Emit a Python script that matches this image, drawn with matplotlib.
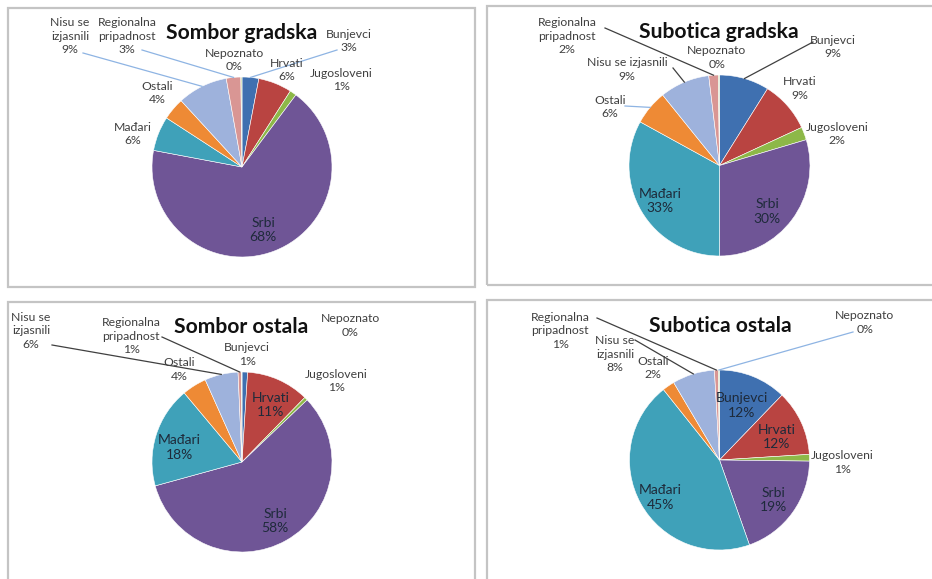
import matplotlib.pyplot as plt
from matplotlib.patches import Rectangle
import numpy as np

plt.rcParams['font.family'] = ['Lato', 'DejaVu Sans']

# --- data -------------------------------------------------------------
categories = ['Bunjevci', 'Hrvati', 'Jugosloveni', 'Srbi', 'Mađari', 'Ostali',
              'Nisu se izjasnili', 'Regionalna pripadnost', 'Nepoznato']

titles = ['Sombor gradska', 'Subotica gradska', 'Sombor ostala', 'Subotica ostala']

sombor_gradska = [3.0, 6.0, 1.2, 67.6, 6.2, 4.0, 9.0, 2.6, 0.2]
subotica_gradska = [8.9, 9.2, 2.3, 29.6, 33.0, 6.2, 8.9, 1.7, 0.2]
sombor_ostala = [1.0, 11.3, 0.6, 57.9, 18.2, 4.4, 6.0, 0.6, 0.1]
subotica_ostala = [12.2, 11.8, 1.2, 19.4, 44.7, 2.2, 7.6, 0.7, 0.2]

colors = ['#3F70B0', '#B94441', '#8DB848', '#6F5596', '#3FA1B9', '#EE8A35',
          '#9EB2DC', '#D99694', '#B8D08E']

# --- layout (pixels, origin top-left) ---------------------------------
W, H = 932, 579
LB = '#8EB4E3'   # light blue leader
DG = '#404040'   # dark leader

panels = [
    dict(vals=sombor_gradska, center=(242, 167), r=90, title_xy=(242, 33),
         box=(8, 8, 475, 287),
         labels=[(0, 'Bunjevci', 349, 41, False, (337, 50), LB),
                 (1, 'Hrvati', 287, 70, False, None, None),
                 (2, 'Jugosloveni', 341, 80, False, None, None),
                 (3, 'Srbi', 263, 230, True, None, None),
                 (4, 'Mađari', 133, 134, False, None, None),
                 (5, 'Ostali', 157, 93, False, None, None),
                 (6, 'Nisu se\nizjasnili', 70, 36, False, (83, 53), LB),
                 (7, 'Regionalna\npripadnost', 127, 36, False, (142, 50), LB),
                 (8, 'Nepoznato', 234, 60, False, None, None)]),
    dict(vals=subotica_gradska, center=(719.5, 165.5), r=90.5, title_xy=(719, 32),
         box=(487, 6, 950, 285),
         labels=[(0, 'Bunjevci', 833, 47, False, (813, 42), DG),
                 (1, 'Hrvati', 800, 88.5, False, None, None),
                 (2, 'Jugosloveni', 837, 134, False, None, None),
                 (3, 'Srbi', 767, 211.5, True, None, None),
                 (4, 'Mađari', 660, 201, True, None, None),
                 (5, 'Ostali', 610, 107, False, (625, 106), LB),
                 (6, 'Nisu se izjasnili', 627, 69.5, False, (673, 68), DG),
                 (7, 'Regionalna\npripadnost', 567, 36, False, (605, 28), DG),
                 (8, 'Nepoznato', 717, 57.5, False, None, None)]),
    dict(vals=sombor_ostala, center=(242, 462), r=90, title_xy=(241, 327),
         box=(8, 302, 475, 600),
         labels=[(0, 'Bunjevci', 247, 354.5, False, None, None),
                 (1, 'Hrvati', 271, 405, True, None, None),
                 (2, 'Jugosloveni', 336, 381, False, None, None),
                 (3, 'Srbi', 275, 521, True, None, None),
                 (4, 'Mađari', 179, 447.5, True, None, None),
                 (5, 'Ostali', 179, 369.5, False, None, None),
                 (6, 'Nisu se\nizjasnili', 31, 331, False, (52, 345), DG),
                 (7, 'Regionalna\npripadnost', 131, 336, False, (162, 337), DG),
                 (8, 'Nepoznato', 350, 325.5, False, None, None)]),
    dict(vals=subotica_ostala, center=(719.5, 460), r=90, title_xy=(720, 326),
         box=(487, 300, 950, 600),
         labels=[(0, 'Bunjevci', 742, 405.5, True, None, None),
                 (1, 'Hrvati', 777, 437, True, None, None),
                 (2, 'Jugosloveni', 842, 462.5, False, None, None),
                 (3, 'Srbi', 773, 500, True, None, None),
                 (4, 'Mađari', 660, 497.5, True, None, None),
                 (5, 'Ostali', 653, 368, False, None, None),
                 (6, 'Nisu se\nizjasnili', 615, 354, False, (635, 340), DG),
                 (7, 'Regionalna\npripadnost', 560, 331, False, (597, 318), DG),
                 (8, 'Nepoznato', 865, 322.5, False, (853, 332), LB)]),
]

fig = plt.figure(figsize=(9.32, 5.79), dpi=100)
ax = fig.add_axes([0, 0, 1, 1])


def Y(y):
    return H - y


for p, title in zip(panels, titles):
    x0, y0, x1, y1 = p['box']
    ax.add_patch(Rectangle((x0, Y(y1)), x1 - x0, y1 - y0, fill=False,
                           edgecolor='#C4C4C4', lw=1.6))
    cx, cy = p['center']
    wedges, _ = ax.pie(p['vals'], colors=colors, startangle=90, counterclock=False,
                       center=(cx, Y(cy)), radius=p['r'], frame=True,
                       wedgeprops=dict(edgecolor='white', linewidth=0.4))
    ax.text(p['title_xy'][0], Y(p['title_xy'][1]), title, ha='center', va='center',
            fontsize=15.2, fontweight='bold', color='#111111')
    for i, name, lx, ly, inside, start, lc in p['labels']:
        txt = f"{name}\n{round(p['vals'][i])}%"
        ax.text(lx, Y(ly), txt, ha='center', va='center', linespacing=1.25,
                fontsize=10 if inside else 8.8,
                color='#1E2A3A' if inside else '#404040')
        if start is not None:
            w = wedges[i]
            a = np.deg2rad((w.theta1 + w.theta2) / 2)
            ex = cx + p['r'] * np.cos(a)
            ey = Y(cy) + p['r'] * np.sin(a)
            ax.plot([start[0], ex], [Y(start[1]), ey], color=lc, lw=0.9)

ax.set_xlim(0, W)
ax.set_ylim(0, H)
ax.set_aspect('auto')
ax.axis('off')

fig.savefig('out.png', dpi=100)
